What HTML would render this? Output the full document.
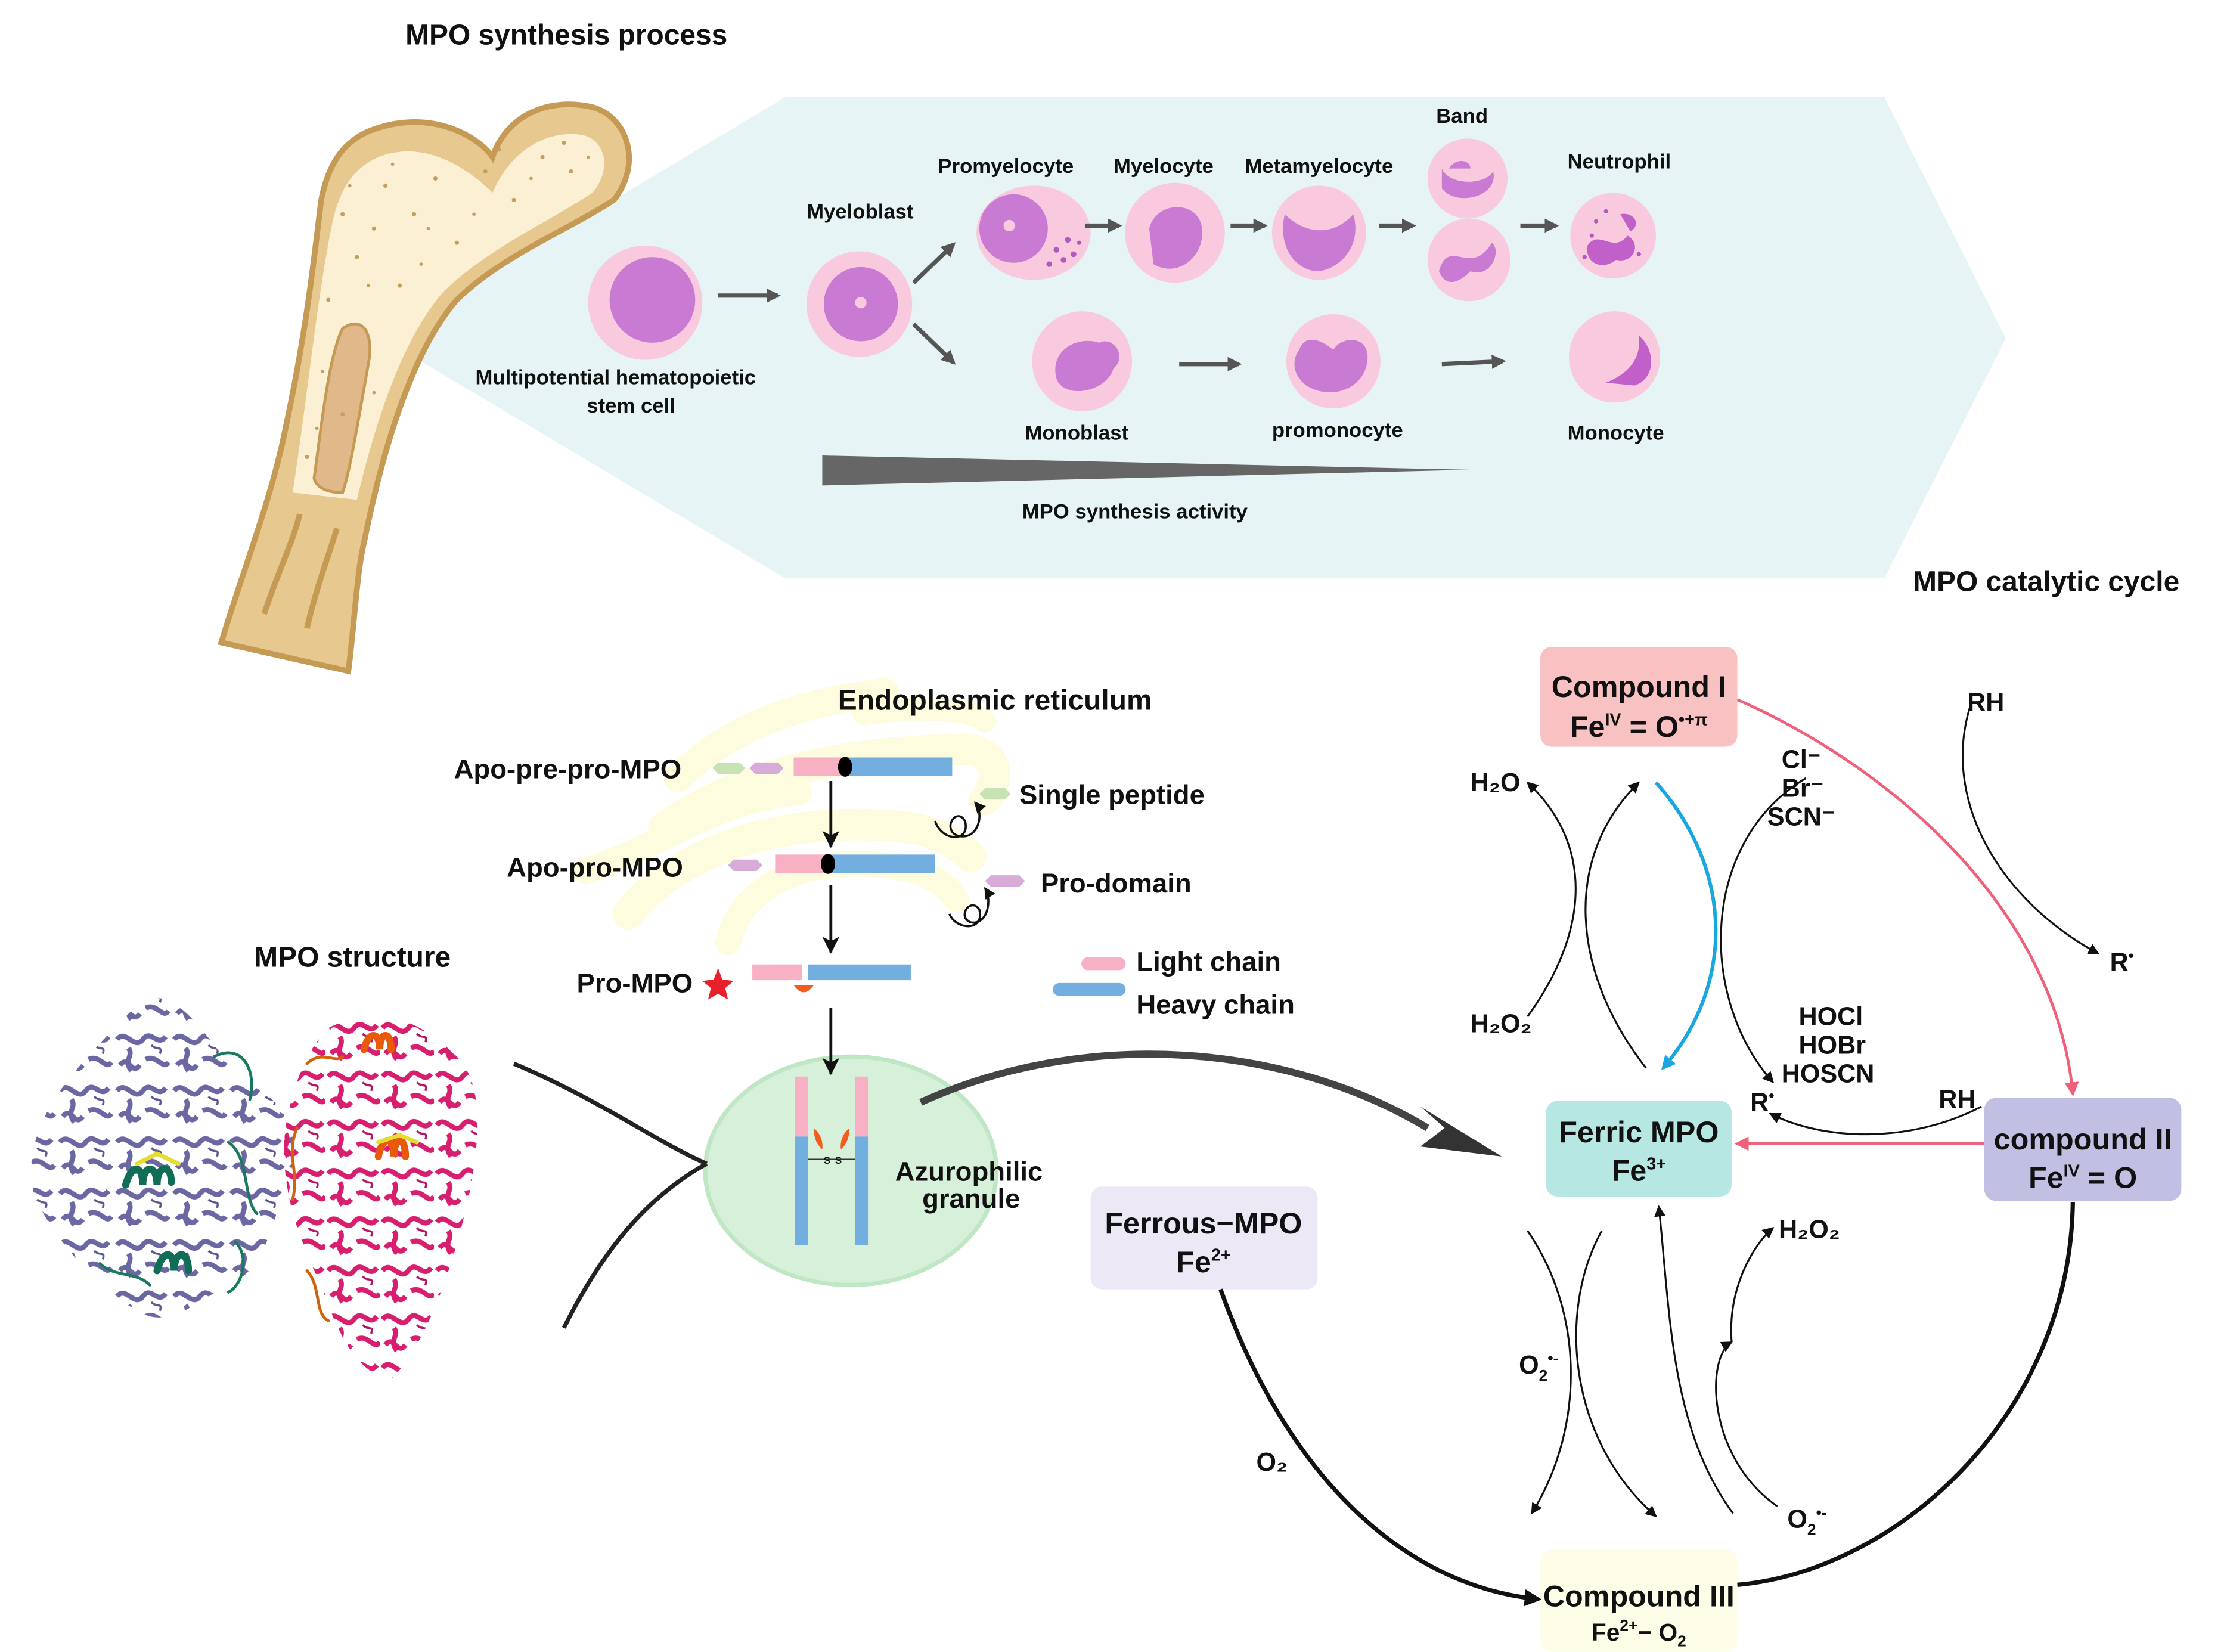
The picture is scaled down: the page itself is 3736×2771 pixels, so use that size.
<!DOCTYPE html>
<html><head><meta charset="utf-8"><style>
html,body{margin:0;padding:0;background:#fff}
svg{display:block}
text{font-family:"Liberation Sans",Arial,sans-serif;font-weight:bold;fill:#111}
</style></head><body>
<svg width="3736" height="2771" viewBox="0 0 1560 1157" xmlns="http://www.w3.org/2000/svg">
<defs>
<marker id="ah" markerWidth="8" markerHeight="8" refX="7" refY="4" orient="auto" markerUnits="userSpaceOnUse"><path d="M0,0 L8,4 L0,8 Z" fill="#111"/></marker>
<marker id="ahv" markerWidth="12" markerHeight="14" refX="11" refY="6" orient="auto" markerUnits="userSpaceOnUse"><path d="M0,0 L12,6 L0,12 L3,6 Z" fill="#111"/></marker>
<marker id="ahg" markerWidth="10" markerHeight="10" refX="8" refY="5" orient="auto" markerUnits="userSpaceOnUse"><path d="M0,0 L10,5 L0,10 Z" fill="#555"/></marker>
<marker id="ahp" markerWidth="10" markerHeight="10" refX="8" refY="5" orient="auto" markerUnits="userSpaceOnUse"><path d="M0,0 L10,5 L0,10 Z" fill="#f0607a"/></marker>
<marker id="ahb" markerWidth="10" markerHeight="10" refX="8" refY="5" orient="auto" markerUnits="userSpaceOnUse"><path d="M0,0 L10,5 L0,10 Z" fill="#1aa7e0"/></marker>
<marker id="ahk" markerWidth="12" markerHeight="12" refX="9" refY="6" orient="auto" markerUnits="userSpaceOnUse"><path d="M0,0 L12,6 L0,12 Z" fill="#111"/></marker>
<pattern id="pp" width="40" height="36" patternUnits="userSpaceOnUse">
<path d="M2,8 C8,0 14,16 20,8 C26,0 30,14 36,6 M4,26 C10,18 12,34 18,26 M22,22 C30,18 34,30 38,24 M10,14 C14,20 6,22 12,30" stroke="#6b67a3" stroke-width="3.5" fill="none"/>
<path d="M26,12 C30,16 34,12 32,18" stroke="#5b5890" stroke-width="1.5" fill="none"/>
</pattern>
<pattern id="pk" width="38" height="34" patternUnits="userSpaceOnUse">
<path d="M2,6 C8,-2 14,14 20,6 C26,-2 30,12 36,4 M4,24 C10,16 12,32 18,24 M22,20 C30,16 34,28 38,22 M10,12 C14,18 6,20 12,28" stroke="#d81e6e" stroke-width="3.5" fill="none"/>
<path d="M26,10 C30,14 34,10 32,16" stroke="#b51560" stroke-width="1.5" fill="none"/>
</pattern>
</defs>

<!-- hexagon -->
<polygon points="550,68 1320,68 1405,237 1320,405 550,405 268,237" fill="#e6f4f6"/>

<!-- bone -->
<path d="M258,92 C300,75 335,95 345,110 C355,80 385,68 415,75 C440,82 450,115 430,140 C400,160 350,180 320,210 C285,250 265,330 255,380 C250,400 248,440 244,470 L155,450 C170,400 190,350 200,300 C215,230 220,180 225,140 C230,115 240,100 258,92 Z" fill="#e7c88e" stroke="#c49a55" stroke-width="4"/>
<path d="M265,110 C295,98 325,115 345,135 C360,100 390,90 410,95 C425,100 428,120 415,135 C385,155 340,175 310,205 C280,240 262,300 250,350 L205,345 C215,280 222,210 232,160 C238,130 248,118 265,110 Z" fill="#fbefd4"/>
<path d="M240,230 C255,220 262,235 258,255 C250,300 245,330 240,345 C232,345 222,343 220,335 C225,300 230,250 240,230 Z" fill="#e0b88a" stroke="#c49a55" stroke-width="2"/>
<g fill="#c4a060">
<circle cx="270" cy="130" r="1.5"/><circle cx="290" cy="150" r="1.5"/><circle cx="250" cy="180" r="1.5"/><circle cx="380" cy="110" r="1.5"/><circle cx="400" cy="120" r="1.5"/><circle cx="360" cy="140" r="1.5"/><circle cx="320" cy="170" r="1.5"/><circle cx="240" cy="290" r="1.5"/><circle cx="230" cy="210" r="1.5"/><circle cx="305" cy="125" r="1.5"/><circle cx="262" cy="160" r="1.5"/><circle cx="240" cy="150" r="1.5"/><circle cx="280" cy="200" r="1.5"/><circle cx="215" cy="320" r="1.5"/><circle cx="340" cy="120" r="1.5"/><circle cx="395" cy="100" r="1.5"/>
<circle cx="275" cy="115" r="1.2"/><circle cx="300" cy="160" r="1.2"/><circle cx="258" cy="200" r="1.2"/><circle cx="372" cy="125" r="1.2"/><circle cx="412" cy="110" r="1.2"/><circle cx="332" cy="150" r="1.2"/><circle cx="226" cy="260" r="1.2"/><circle cx="222" cy="300" r="1.2"/><circle cx="262" cy="275" r="1.2"/><circle cx="350" cy="105" r="1.2"/><circle cx="245" cy="130" r="1.2"/><circle cx="295" cy="185" r="1.2"/>
</g>
<path d="M185,430 C195,400 205,380 210,360 M215,440 C222,410 230,390 236,370" stroke="#c49a55" stroke-width="4" fill="none"/>

<!-- cells -->
<g>
<circle cx="452" cy="212" r="40" fill="#f9cade"/><circle cx="457" cy="210" r="30" fill="#c97bd3"/>
<circle cx="602" cy="213" r="37" fill="#f9cade"/><circle cx="603" cy="213" r="26" fill="#c97bd3"/><circle cx="603" cy="212" r="4" fill="#f9cade"/>
<ellipse cx="724" cy="163" rx="40" ry="33" fill="#f9cade"/><circle cx="710" cy="160" r="24" fill="#c97bd3"/><circle cx="707" cy="158" r="4" fill="#f9cade"/>
<g fill="#b05ac0"><circle cx="740" cy="175" r="2"/><circle cx="748" cy="168" r="2"/><circle cx="745" cy="182" r="2"/><circle cx="752" cy="178" r="2"/><circle cx="735" cy="185" r="2"/><circle cx="756" cy="170" r="1.5"/></g>
<circle cx="823" cy="163" r="35" fill="#f9cade"/><path d="M805,160 C810,140 840,140 842,160 C844,180 825,195 808,185 Z" fill="#c97bd3"/>
<circle cx="924" cy="163" r="33" fill="#f9cade"/><path d="M900,150 C915,165 935,165 948,150 C955,175 935,190 922,190 C905,188 895,170 900,150 Z" fill="#c97bd3"/>
<circle cx="1028" cy="125" r="28" fill="#f9cade"/><path d="M1010,118 C1015,130 1040,130 1046,120 C1050,138 1020,145 1010,132 Z M1015,118 C1020,110 1030,112 1030,118" fill="#c97bd3"/>
<circle cx="1029" cy="182" r="29" fill="#f9cade"/><path d="M1008,190 C1015,165 1030,195 1045,170 C1052,175 1045,195 1030,190 C1020,200 1012,200 1008,190 Z" fill="#c97bd3"/>
<circle cx="1130" cy="165" r="30" fill="#f9cade"/><path d="M1112,172 C1120,160 1130,178 1140,165 C1150,170 1145,185 1132,182 C1122,190 1110,184 1112,172 Z M1135,150 C1145,148 1150,158 1142,162 Z" fill="#c060c8"/>
<g fill="#b05ac0"><circle cx="1118" cy="155" r="1.5"/><circle cx="1125" cy="148" r="1.5"/><circle cx="1115" cy="165" r="1.5"/><circle cx="1148" cy="178" r="1.5"/><circle cx="1110" cy="180" r="1.5"/></g>
<circle cx="758" cy="253" r="35" fill="#f9cade"/><path d="M740,265 C735,245 755,235 770,240 C780,235 790,250 780,258 C775,275 745,280 740,265 Z" fill="#c97bd3"/>
<circle cx="934" cy="253" r="33" fill="#f9cade"/><path d="M910,245 C915,232 928,240 934,245 C940,235 958,235 958,250 C958,270 935,282 915,270 C905,262 905,252 910,245 Z" fill="#c97bd3"/>
<circle cx="1131" cy="250" r="32" fill="#f9cade"/><path d="M1125,268 C1140,262 1150,252 1148,235 C1160,245 1160,265 1145,270 Z" fill="#c060c8"/>
</g>
<g stroke="#555" stroke-width="3" fill="none" marker-end="url(#ahg)">
<line x1="503" y1="207" x2="545" y2="207"/><line x1="640" y1="198" x2="668" y2="171"/><line x1="640" y1="227" x2="668" y2="254"/>
<line x1="760" y1="158" x2="784" y2="158"/><line x1="862" y1="158" x2="886" y2="158"/><line x1="966" y1="158" x2="990" y2="158"/><line x1="1065" y1="158" x2="1090" y2="158"/>
<line x1="826" y1="255" x2="868" y2="255"/><line x1="1010" y1="255" x2="1053" y2="253"/>
</g>
<polygon points="576,319 576,340 1030,329" fill="#666"/>
<g font-size="14.5">
<text x="284" y="31" font-size="20">MPO synthesis process</text>
<text x="565" y="153">Myeloblast</text>
<text x="657" y="121">Promyelocyte</text>
<text x="780" y="121">Myelocyte</text>
<text x="872" y="121">Metamyelocyte</text>
<text x="1006" y="86">Band</text>
<text x="1098" y="118">Neutrophil</text>
<text x="333" y="269">Multipotential hematopoietic</text>
<text x="411" y="289">stem cell</text>
<text x="718" y="308">Monoblast</text>
<text x="891" y="306">promonocyte</text>
<text x="1098" y="308">Monocyte</text>
<text x="716" y="363">MPO synthesis activity</text>
</g>

<!-- ER -->
<g fill="none" stroke="#fdfcdf" stroke-linecap="round">
<path d="M475,545 C520,500 580,490 620,485" stroke-width="20"/>
<path d="M465,580 C520,540 600,525 680,525 C700,530 700,545 690,560" stroke-width="22"/>
<path d="M410,610 C470,590 500,560 560,555" stroke-width="18"/>
<path d="M440,640 C480,590 560,570 640,580 C665,585 680,600 680,600" stroke-width="22"/>
<path d="M510,660 C520,620 560,605 600,605 C640,605 660,615 670,630" stroke-width="18"/>
<path d="M605,500 C640,495 680,495 690,505" stroke-width="16"/>
</g>
<text x="587" y="497" font-size="20">Endoplasmic reticulum</text>
<text x="318" y="545" font-size="19">Apo-pre-pro-MPO</text>
<text x="355" y="614" font-size="19">Apo-pro-MPO</text>
<text x="404" y="695" font-size="19">Pro-MPO</text>
<text x="714" y="563" font-size="19">Single peptide</text>
<text x="729" y="625" font-size="19">Pro-domain</text>
<text x="796" y="680" font-size="19">Light chain</text>
<text x="796" y="710" font-size="19">Heavy chain</text>
<g stroke-linecap="round">
<polygon points="499,538 503,534 518,534 522,538 518,542 503,542" fill="#c8e2b4"/>
<polygon points="525,538 529,534 545,534 549,538 545,542 529,542" fill="#d8acd8"/>
<line x1="556" y1="537" x2="592" y2="537" stroke="#f7b0c4" stroke-width="13" stroke-linecap="butt"/>
<line x1="592" y1="537" x2="667" y2="537" stroke="#73aee0" stroke-width="13" stroke-linecap="butt"/>
<ellipse cx="592" cy="537" rx="5" ry="7" fill="#000"/>
<polygon points="510,606 514,602 530,602 534,606 530,610 514,610" fill="#d8acd8"/>
<line x1="543" y1="605" x2="580" y2="605" stroke="#f7b0c4" stroke-width="13" stroke-linecap="butt"/>
<line x1="580" y1="605" x2="655" y2="605" stroke="#73aee0" stroke-width="13" stroke-linecap="butt"/>
<ellipse cx="580" cy="605" rx="5" ry="7" fill="#000"/>
<polygon points="686,556 690,552 704,552 708,556 704,560 690,560" fill="#c8e2b4"/>
<polygon points="690,617 694,613 714,613 718,617 714,621 694,621" fill="#d8acd8"/>
<line x1="527" y1="681" x2="562" y2="681" stroke="#f7b0c4" stroke-width="11" stroke-linecap="butt"/>
<line x1="566" y1="681" x2="638" y2="681" stroke="#73aee0" stroke-width="11" stroke-linecap="butt"/>
<line x1="762" y1="675" x2="784" y2="675" stroke="#f7b0c4" stroke-width="9"/>
<line x1="742" y1="693" x2="784" y2="693" stroke="#73aee0" stroke-width="9"/>
</g>
<path d="M556,690 Q563,700 570,690 Z" fill="#f25c1f"/>
<polygon points="503,678 506,686 514,687 508,692 510,700 503,696 496,700 498,692 492,687 500,686" fill="#e8202a"/>
<g stroke="#111" stroke-width="1.5" fill="none">
<path d="M655,575 C660,590 680,590 676,575 C670,565 660,580 670,585 C685,590 690,570 683,562" marker-end="url(#ah)"/>
<path d="M665,640 C670,652 690,652 686,637 C680,628 670,642 680,646 C692,648 695,630 690,622" marker-end="url(#ah)"/>
</g>
<ellipse cx="596" cy="820" rx="102" ry="80" fill="#d7f0d9" stroke="#bfe7c4" stroke-width="3"/>
<g stroke="#111" stroke-width="2" marker-end="url(#ahv)">
<line x1="582" y1="547" x2="582" y2="593"/><line x1="582" y1="620" x2="582" y2="667"/><line x1="582" y1="706" x2="582" y2="752"/>
</g>
<g>
<rect x="557" y="754" width="9" height="42" fill="#f7b0c4"/><rect x="599" y="754" width="9" height="42" fill="#f7b0c4"/>
<rect x="557" y="796" width="9" height="76" fill="#73aee0"/><rect x="599" y="796" width="9" height="76" fill="#73aee0"/>
<path d="M570,790 Q577,796 576,805 Q570,800 570,790 Z M595,790 Q588,796 589,805 Q595,800 595,790 Z" fill="#f25c1f"/>
<line x1="566" y1="812" x2="599" y2="812" stroke="#333" stroke-width="1"/>
<text x="577" y="815" font-size="7">S</text><text x="585" y="815" font-size="7">S</text>
</g>
<text x="627" y="827" font-size="19">Azurophilic</text>
<text x="646" y="846" font-size="19">granule</text>

<!-- MPO structure -->
<text x="178" y="677" font-size="20">MPO structure</text>
<path d="M100,700 C130,690 150,740 175,760 C200,770 215,800 200,830 C190,860 185,890 160,900 C140,910 120,930 100,920 C70,905 40,870 25,840 C15,810 30,780 45,760 C60,740 80,720 100,700 Z" fill="url(#pp)"/>
<path d="M230,720 C270,700 300,720 320,740 C340,760 335,800 330,830 C320,880 300,940 275,965 C250,965 235,930 225,900 C210,870 195,830 200,790 C205,760 215,735 230,720 Z" fill="url(#pk)"/>
<g fill="none" stroke-linecap="round">
<path d="M88,830 C92,815 100,815 100,830 C100,815 110,815 110,830 C110,815 120,815 120,828" stroke="#0f6e55" stroke-width="5"/>
<path d="M110,890 C114,875 122,875 122,890 C122,875 132,875 132,890" stroke="#0f6e55" stroke-width="5"/>
<path d="M150,740 C170,730 180,750 175,770 M160,800 C175,810 170,840 180,850 M70,885 C80,895 95,890 105,900 M165,870 C175,880 170,900 160,905" stroke="#1a7a5e" stroke-width="2"/>
<path d="M215,745 C225,735 235,745 240,740 M208,790 C200,810 210,820 205,840 M215,890 C225,900 220,920 230,925" stroke="#d0620a" stroke-width="2"/>
<path d="M265,810 C268,795 276,795 276,810 C276,795 284,795 284,810" stroke="#e85a0a" stroke-width="5"/>
<path d="M255,735 C258,722 266,722 266,735 C266,722 274,722 274,735" stroke="#e85a0a" stroke-width="5"/>
<path d="M96,815 L110,808 L125,815 M265,800 L280,795 L292,800" stroke="#e5dd30" stroke-width="3"/>
</g>
<path d="M360,745 C420,770 460,800 495,815" stroke="#222" stroke-width="3" fill="none"/>
<path d="M395,930 C420,880 450,840 495,815" stroke="#222" stroke-width="3" fill="none"/>
<path d="M645,772 C760,720 900,730 1000,790" stroke="#444" stroke-width="5" fill="none"/>
<polygon points="1052,810 995,775 1012,790 995,803" fill="#333"/>

<!-- catalytic cycle -->
<text x="1340" y="414" font-size="20">MPO catalytic cycle</text>
<rect x="1079" y="453" width="138" height="70" rx="8" fill="#f9c2c2"/>
<text x="1148" y="488" font-size="21" text-anchor="middle">Compound  I</text>
<text x="1148" y="516" font-size="21" text-anchor="middle">Fe<tspan font-size="12" dy="-8">IV</tspan><tspan dy="8"> = O</tspan><tspan font-size="12" dy="-8">•+π</tspan></text>
<rect x="1083" y="771" width="130" height="67" rx="8" fill="#b6e7e2"/>
<text x="1148" y="800" font-size="21" text-anchor="middle">Ferric MPO</text>
<text x="1148" y="827" font-size="21" text-anchor="middle">Fe<tspan font-size="12" dy="-8">3+</tspan></text>
<rect x="1390" y="769" width="138" height="72" rx="8" fill="#c1bfe2"/>
<text x="1459" y="805" font-size="21" text-anchor="middle">compound II</text>
<text x="1459" y="832" font-size="21" text-anchor="middle">Fe<tspan font-size="12" dy="-8">IV</tspan><tspan dy="8"> = O</tspan></text>
<rect x="764" y="831" width="159" height="72" rx="8" fill="#ece8f6"/>
<text x="843" y="864" font-size="21" text-anchor="middle">Ferrous−MPO</text>
<text x="843" y="891" font-size="21" text-anchor="middle">Fe<tspan font-size="12" dy="-8">2+</tspan></text>
<rect x="1079" y="1085" width="138" height="72" rx="8" fill="#fdfde8"/>
<text x="1148" y="1125" font-size="21" text-anchor="middle">Compound III</text>
<text x="1148" y="1149" font-size="17" text-anchor="middle">Fe<tspan font-size="11" dy="-7">2+</tspan><tspan dy="7">− O</tspan><tspan font-size="11" dy="4">2</tspan></text>

<g font-size="18">
<text x="1030" y="554">H₂O</text>
<text x="1030" y="723">H₂O₂</text>
<text x="1248" y="538">Cl⁻</text><text x="1248" y="558">Br⁻</text><text x="1238" y="578">SCN⁻</text>
<text x="1260" y="718">HOCl</text><text x="1260" y="738">HOBr</text><text x="1248" y="758">HOSCN</text>
<text x="1226" y="778">R<tspan font-size="11" dy="-7">•</tspan></text>
<text x="1358" y="776">RH</text>
<text x="1378" y="498">RH</text>
<text x="1478" y="680">R<tspan font-size="11" dy="-7">•</tspan></text>
<text x="1246" y="867">H₂O₂</text>
<text x="1064" y="962">O<tspan font-size="11" dy="5">2</tspan><tspan font-size="11" dy="-12">•-</tspan></text>
<text x="1252" y="1070">O<tspan font-size="11" dy="5">2</tspan><tspan font-size="11" dy="-12">•-</tspan></text>
<text x="880" y="1030">O₂</text>
</g>

<g fill="none" stroke="#111" stroke-width="1.3" marker-end="url(#ah)">
<path d="M1153,748 C1100,680 1095,600 1148,548"/>
<path d="M1070,712 C1115,650 1115,590 1070,548"/>
<path d="M1265,545 C1190,590 1190,700 1242,758"/>
<path d="M1380,495 C1360,560 1400,630 1470,668"/>
<path d="M1388,775 C1340,800 1280,800 1240,780"/>
<path d="M1070,862 C1110,920 1110,1000 1073,1060"/>
<path d="M1122,862 C1090,920 1100,1010 1160,1062"/>
<path d="M1214,1060 C1170,1000 1170,920 1162,845"/>
<path d="M1213,940 C1210,900 1230,870 1242,860"/>
<path d="M1245,1055 C1195,1020 1195,950 1213,940"/>
</g>
<path d="M1160,548 C1215,610 1215,690 1165,748" stroke="#1aa7e0" stroke-width="2.5" fill="none" marker-end="url(#ahb)"/>
<path d="M1217,490 C1330,540 1440,640 1452,766" stroke="#f0607a" stroke-width="2" fill="none" marker-end="url(#ahp)"/>
<line x1="1390" y1="801" x2="1217" y2="801" stroke="#f0607a" stroke-width="2" marker-end="url(#ahp)"/>
<path d="M1452,842 C1450,990 1330,1100 1217,1110" stroke="#111" stroke-width="3" fill="none"/>
<path d="M855,903 C900,1030 980,1110 1077,1120" stroke="#111" stroke-width="3" fill="none" marker-end="url(#ahk)"/>
</svg>
</body></html>
